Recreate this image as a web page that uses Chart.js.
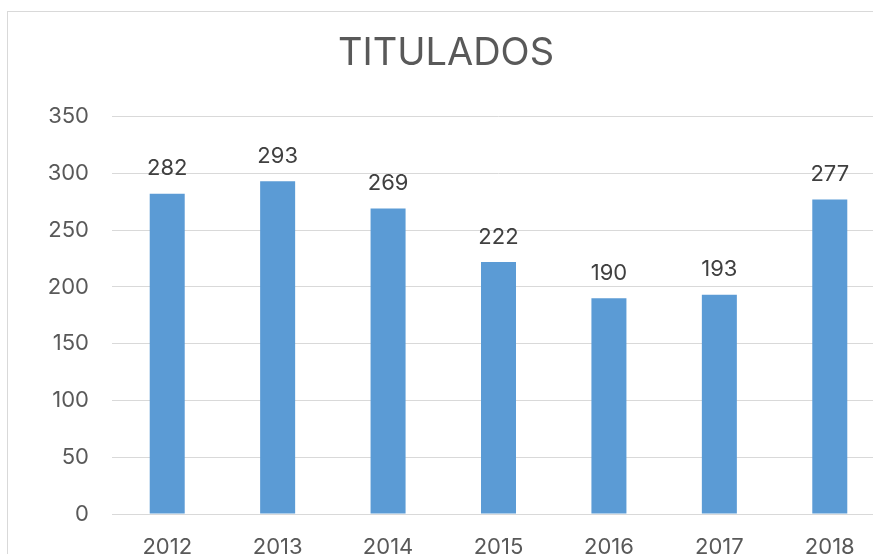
<!DOCTYPE html>
<html>
<head>
<meta charset="utf-8">
<script src="https://cdn.jsdelivr.net/npm/chart.js@4"></script>
<style>
    html, body { margin: 0; padding: 0; background: #ffffff; }
    #clip { position: relative; width: 873px; height: 554px; overflow: hidden; }
    #frame { position: absolute; left: 7px; top: 11px; width: 900px; height: 600px; border-top: 1px solid #d9d9d9; border-left: 1px solid #d9d9d9; box-sizing: border-box; }
    #wrap { position: absolute; left: 0; top: 0; width: 885px; height: 600px; }
</style>
</head>
<body>
<div id="clip">
    <div id="frame"></div>
    <div id="wrap"><canvas id="titulados"></canvas></div>
</div>
<script>
// Datos del gráfico
const categories = ['2012', '2013', '2014', '2015', '2016', '2017', '2018'];
const values = [282, 293, 269, 222, 190, 193, 277];
const yTicks = [0, 50, 100, 150, 200, 250, 300, 350];

const FONT = 'Inter, "Open Sans", sans-serif';

// Etiquetas de valor encima de cada barra
const valueLabels = {
    id: 'valueLabels',
    afterDatasetsDraw(chart) {
        const ctx = chart.ctx;
        const meta = chart.getDatasetMeta(0);
        ctx.save();
        ctx.font = '22px ' + FONT;
        ctx.fillStyle = '#404040';
        ctx.textAlign = 'center';
        ctx.textBaseline = 'middle';
        meta.data.forEach((bar, i) => {
            ctx.fillText(String(values[i]), bar.x, bar.y - 25);
        });
        ctx.restore();
    }
};

const ctx = document.getElementById('titulados').getContext('2d');
new Chart(ctx, {
    type: 'bar',
    data: {
        labels: categories,
        datasets: [{
            label: 'Titulados',
            data: values,
            backgroundColor: '#5b9bd5',
            borderWidth: 0,
            barPercentage: 1,
            categoryPercentage: 0.317
        }]
    },
    options: {
        responsive: true,
        maintainAspectRatio: false,
        animation: false,
        layout: { padding: { left: 7, right: 0, top: 11, bottom: 26 } },
        plugins: {
            legend: { display: false },
            tooltip: { enabled: false },
            title: {
                display: true,
                text: 'TITULADOS',
                color: '#595959',
                font: { family: FONT, size: 38, weight: 'normal' },
                padding: { top: 20, bottom: 40 }
            }
        },
        scales: {
            x: {
                grid: { display: false },
                border: { display: true, color: '#d9d9d9', width: 1 },
                ticks: { color: '#595959', font: { family: FONT, size: 22 }, padding: 12 },
                afterFit: (s) => { s.height = 60; }
            },
            y: {
                min: 0,
                max: 350,
                afterBuildTicks: (s) => { s.ticks = yTicks.map(v => ({ value: v })); },
                grid: { color: '#d9d9d9', lineWidth: 1, drawTicks: false },
                border: { display: false },
                ticks: { color: '#595959', font: { family: FONT, size: 22 }, padding: 23 },
                afterFit: (s) => { s.width = 105; }
            }
        }
    },
    plugins: [valueLabels]
});
</script>
</body>
</html>
